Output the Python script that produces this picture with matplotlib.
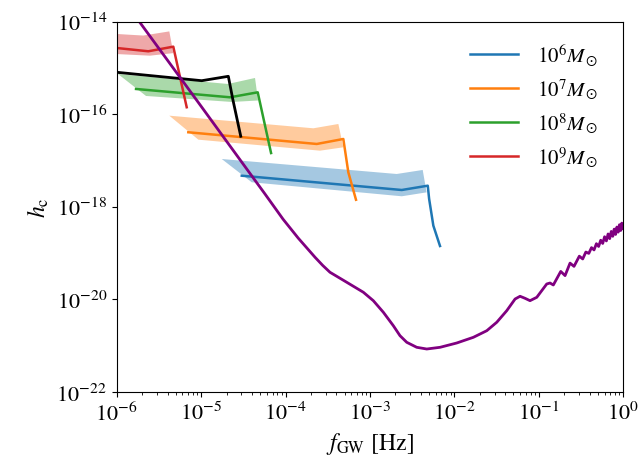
import numpy as np
import matplotlib
matplotlib.use("Agg")
import matplotlib.pyplot as plt
from matplotlib.ticker import NullLocator

plt.rcParams['font.family'] = ['STIXGeneral', 'DejaVu Serif']
plt.rcParams['mathtext.fontset'] = 'stix'

# sensitivity curve (log10 f, log10 h_c)
sens_logf = [-6.0, -5.5, -5.0, -4.46, -4.25, -4.03, -3.85, -3.651, -3.56, -3.474,
             -3.276, -3.079, -2.961, -2.842, -2.724, -2.645, -2.565, -2.447, -2.328,
             -2.170, -1.973, -1.776, -1.617, -1.499, -1.381, -1.282, -1.223, -1.165,
             -1.105, -1.025, -0.907, -0.868, -0.829, -0.741, -0.690, -0.631, -0.584,
             -0.521, -0.481]
sens_logh = [-13.33, -14.58, -15.83, -17.185, -17.71, -18.27, -18.68, -19.094, -19.27, -19.418,
             -19.634, -19.850, -20.032, -20.283, -20.573, -20.789, -20.932, -21.040, -21.077,
             -21.040, -20.947, -20.824, -20.681, -20.499, -20.249, -19.996, -19.937, -19.98,
             -20.032, -19.959, -19.671, -19.65, -19.693, -19.40, -19.49, -19.22, -19.29,
             -19.07, -19.13]
# dense wiggles at high frequency (f in Hz, log10 h_c)
wig_f = [0.36, 0.39, 0.42, 0.45, 0.48, 0.51, 0.54, 0.57, 0.60, 0.63, 0.66, 0.69,
         0.72, 0.75, 0.78, 0.81, 0.84, 0.87, 0.90, 0.93, 0.96, 0.99, 1.0]
wig_logh = [-18.98, -19.01, -18.885, -18.935, -18.80, -18.86, -18.725, -18.795, -18.65, -18.74,
            -18.59, -18.69, -18.535, -18.64, -18.485, -18.60, -18.44, -18.55, -18.39, -18.515,
            -18.355, -18.48, -18.40]

# source tracks: median line and band polygon (log10 f, log10 h_c)
labels = [r'$10^6M_\odot$', r'$10^7M_\odot$', r'$10^8M_\odot$', r'$10^9M_\odot$']
colors = ['tab:blue', 'tab:orange', 'tab:green', 'tab:red']

line_logf = [
    [-4.519, -2.624, -2.316, -2.30, -2.25, -2.171],
    [-5.152, -3.631, -3.316, -3.257, -3.166],
    [-5.771, -4.658, -4.330, -4.172],
    [-6.0, -5.626, -5.33, -5.25, -5.171],
]
line_logh = [
    [-17.33, -17.639, -17.546, -17.83, -18.41, -18.85],
    [-16.391, -16.644, -16.536, -17.256, -17.85],
    [-15.455, -15.635, -15.527, -16.84],
    [-14.569, -14.64, -14.54, -15.20, -15.85],
]
band_logf = [
    [-4.756, -2.684, -2.376, -2.33, -2.624, -4.401],
    [-5.377, -3.671, -3.375, -3.316, -3.592, -5.033],
    [-5.985, -4.682, -4.362, -4.326, -4.634, -5.653],
    [-6.0, -5.685, -5.377, -5.33, -5.606, -6.0],
]
band_logh = [
    [-16.969, -17.293, -17.206, -17.69, -17.775, -17.472],
    [-16.032, -16.305, -16.212, -16.716, -16.789, -16.551],
    [-15.131, -15.347, -15.217, -15.704, -15.736, -15.606],
    [-14.266, -14.30, -14.21, -14.68, -14.735, -14.70],
]

# extra black track
black_logf = [-6.0, -4.993, -4.678, -4.626, -4.531]
black_logh = [-15.094, -15.276, -15.181, -15.671, -16.478]

fig = plt.figure(figsize=(6.42, 4.6), dpi=100)
ax = fig.add_axes([0.1818, 0.1463, 0.7891, 0.8044])

for i in range(4):
    ax.fill(10**np.array(band_logf[i]), 10**np.array(band_logh[i]),
            color=colors[i], alpha=0.4, lw=0)
    ax.plot(10**np.array(line_logf[i]), 10**np.array(line_logh[i]),
            color=colors[i], lw=1.8, label=labels[i])

ax.plot(10**np.array(black_logf), 10**np.array(black_logh), color='k', lw=2)

sf = np.concatenate([10**np.array(sens_logf), wig_f])
sh = np.concatenate([10**np.array(sens_logh), 10**np.array(wig_logh)])
ax.plot(sf, sh, color='purple', lw=2)

ax.set_xscale('log')
ax.set_yscale('log')
ax.set_xlim(1e-6, 1)
ax.set_ylim(1e-22, 1e-14)
ax.yaxis.set_minor_locator(NullLocator())
ax.set_xticks([1e-6, 1e-5, 1e-4, 1e-3, 1e-2, 1e-1, 1])
ax.set_yticks([1e-22, 1e-20, 1e-18, 1e-16, 1e-14])
ax.tick_params(labelsize=16)
ax.set_xlabel(r'$f_{\rm GW}$ [Hz]', fontsize=17)
ax.set_ylabel(r'$h_{\rm c}$', fontsize=17)
ax.legend(loc='upper right', bbox_to_anchor=(1.0, 1.015), frameon=False,
          fontsize=15, handlelength=2.3, handletextpad=0.9, labelspacing=0.45,
          borderaxespad=0.8)

fig.savefig('out.png', dpi=100)
